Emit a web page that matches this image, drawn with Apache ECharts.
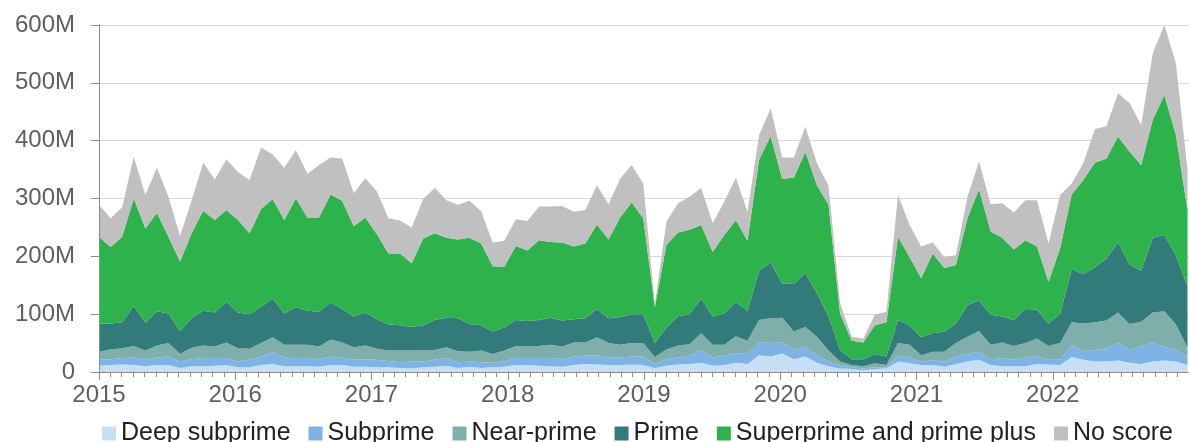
<!DOCTYPE html>
<html>
<head>
<meta charset="utf-8">
<script src="https://cdn.jsdelivr.net/npm/echarts@6/dist/echarts.min.js"></script>
<style>
  html, body { margin: 0; padding: 0; background: #ffffff; }
  #chart { width: 1189px; height: 442px; }
</style>
</head>
<body>
<div id="chart"></div>
<script>
// Monthly originations by credit score tier, Jan 2015 – Nov 2022 (millions of dollars)
const years = ['2015', '2016', '2017', '2018', '2019', '2020', '2021', '2022'];
const seriesNames = ['Deep subprime', 'Subprime', 'Near-prime', 'Prime', 'Superprime and prime plus', 'No score'];

const deepSubprime = [
  11,12,13,12,10,12,12,7,10,10,11,12,
  8,8,12,14,10,10,10,9,12,12,9,9,
  8,8,7,6,8,9,11,7,9,7,8,9,
  12,12,11,10,9,12,14,13,12,12,13,12,
  7,11,13,14,16,11,12,16,14,29,27,32,
  22,27,16,10,6,5,3,5,6,18,15,12,
  12,9,14,18,21,12,10,10,10,14,13,12,
  26,21,18,18,20,16,14,18,20,18,12
];
const subprime = [
  10,10,11,13,11,13,15,10,12,14,13,12,
  10,13,15,20,15,14,14,13,15,13,12,13,
  13,11,10,12,10,12,13,10,9,10,8,9,
  12,12,13,14,13,15,14,16,13,13,14,15,
  7,11,12,14,22,14,16,17,17,22,23,20,
  17,17,13,8,6,3,3,3,2,10,10,6,
  8,9,13,13,14,10,14,11,15,14,8,9,
  21,15,20,23,30,22,30,34,23,21,12
];
const nearPrime = [
  14,17,17,20,16,21,23,14,20,22,20,27,
  23,19,23,26,22,23,23,22,29,26,22,24,
  19,18,20,19,20,17,19,19,17,20,15,19,
  21,20,21,23,22,24,23,31,25,22,23,23,
  12,17,21,20,29,22,19,29,23,39,43,42,
  31,34,32,19,6,4,4,7,4,22,22,11,
  15,17,23,30,36,25,27,24,25,30,24,29,
  39,48,48,48,53,45,43,51,62,43,18
];
const prime = [
  49,45,45,69,48,59,51,40,51,60,59,71,
  62,60,63,67,54,65,59,60,64,58,53,57,
  51,45,44,41,43,52,51,57,48,44,39,40,
  45,44,45,47,45,40,42,49,43,48,50,50,
  24,38,51,52,60,49,54,60,51,85,96,59,
  82,93,75,59,20,10,12,16,15,40,34,31,
  32,35,34,55,53,52,45,45,59,50,39,51,
  92,85,95,107,122,103,88,129,132,120,106
];
const superprime = [
  150,132,148,186,163,170,133,120,147,173,160,158,
  160,140,169,172,162,188,161,163,187,187,156,164,
  147,123,124,110,150,150,138,136,149,141,113,105,
  128,122,138,131,135,126,129,146,136,172,193,166,
  62,143,144,146,127,112,136,141,122,192,219,181,
  184,210,187,193,63,32,29,50,59,144,118,102,
  138,110,101,150,192,144,136,122,119,109,72,113,
  129,163,181,173,182,195,183,204,242,208,132
];
const noScore = [
  55,50,51,72,58,78,69,44,57,83,70,88,
  83,92,106,77,90,84,76,91,64,73,57,68,
  74,61,57,62,68,78,65,60,64,56,41,45,
  46,51,58,61,63,60,58,68,61,67,65,60,
  5,40,51,57,64,49,58,73,50,43,48,37,
  35,43,38,33,18,7,7,18,18,72,55,55,
  19,19,17,37,48,47,60,64,69,80,66,92,
  19,29,58,56,75,84,69,115,121,124,70
];

const colors = ['#c7dff4', '#7db4e5', '#80aeab', '#337b7b', '#2eb24b', '#c0c0c0'];
const values = [deepSubprime, subprime, nearPrime, prime, superprime, noScore];

// one label per month: "2015-01" ... "2022-11"
const months = deepSubprime.map((_, i) =>
  years[Math.floor(i / 12)] + '-' + String(i % 12 + 1).padStart(2, '0'));

const fontFamily = '"Liberation Sans", Arial, sans-serif';
const axisGray = '#8c8c8c';

const chart = echarts.init(document.getElementById('chart'), null, { renderer: 'canvas' });

chart.setOption({
  animation: false,
  color: colors,
  grid: [
    // data grid: first month at the y axis, last month at the right edge
    { left: 99, right: 1.5, top: 25, bottom: 70 },
    // scale grid: a 96-month value scale for yearly ticks and monthly minor ticks
    { left: 99, right: -22, top: 25, bottom: 70 }
  ],
  legend: {
    data: seriesNames,
    left: 97,
    top: 416,
    icon: 'rect',
    itemWidth: 14,
    itemHeight: 14,
    itemGap: 18,
    textStyle: { fontSize: 25, color: '#222222', fontFamily: fontFamily }
  },
  xAxis: [
    {
      gridIndex: 0,
      type: 'category',
      data: months,
      boundaryGap: false,
      show: false
    },
    {
      gridIndex: 1,
      type: 'value',
      min: 0,
      max: 96,
      interval: 12,
      z: 3,
      axisLine: { show: true, lineStyle: { color: axisGray, width: 1 } },
      axisTick: { show: true, length: 8, lineStyle: { color: axisGray } },
      minorTick: { show: true, splitNumber: 12, length: 5, lineStyle: { color: axisGray } },
      splitLine: { show: false },
      axisLabel: {
        margin: 11,
        fontSize: 24,
        color: '#5f5f5f',
        fontFamily: fontFamily,
        showMaxLabel: false,
        formatter: v => (v % 12 === 0 && years[v / 12]) ? years[v / 12] : ''
      }
    }
  ],
  yAxis: [
    {
      gridIndex: 0,
      type: 'value',
      min: 0,
      max: 600,
      interval: 100,
      z: 3,
      axisLine: { show: true, lineStyle: { color: axisGray, width: 1 } },
      axisTick: { show: false },
      axisLabel: { show: false },
      splitLine: { show: false }
    },
    {
      gridIndex: 1,
      type: 'value',
      min: 0,
      max: 600,
      interval: 100,
      axisLine: { show: true, lineStyle: { color: axisGray, width: 1 } },
      axisTick: { show: true, length: 8, lineStyle: { color: axisGray } },
      splitLine: { show: true, lineStyle: { color: '#d9d9d9', width: 1 } },
      axisLabel: {
        margin: 24,
        fontSize: 24,
        color: '#5f5f5f',
        fontFamily: fontFamily,
        formatter: v => v === 0 ? '0' : v + 'M'
      }
    }
  ],
  series: seriesNames.map((name, k) => ({
    name: name,
    type: 'line',
    xAxisIndex: 0,
    yAxisIndex: 0,
    stack: 'total',
    showSymbol: false,
    symbol: 'none',
    lineStyle: { width: 0 },
    areaStyle: { color: colors[k], opacity: 1 },
    data: values[k]
  }))
});
</script>
</body>
</html>
